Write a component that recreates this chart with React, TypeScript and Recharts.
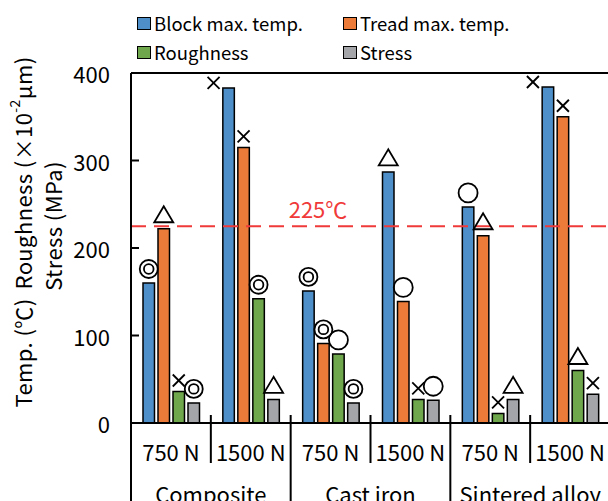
import React from 'react';
import { BarChart, Bar, XAxis, YAxis, ReferenceLine, Legend, LabelList } from 'recharts';

// values
const loads = ['750 N', '1500 N', '750 N', '1500 N', '750 N', '1500 N'];
const groups = ['Composite', 'Cast iron', 'Sintered alloy'];
const blockTemp = [160, 383, 151, 287, 247, 384];
const treadTemp = [222, 315, 91, 139, 214, 350];
const roughness = [36, 142, 79, 27, 11, 60];
const stress = [23, 27, 23, 26, 27, 33];

// evaluation marks drawn above each bar
const blockMark = ['◎', '×', '◎', '△', '○', '×'];
const treadMark = ['△', '×', '◎', '○', '△', '×'];
const roughMark = ['×', '◎', '○', '×', '×', '△'];
const stressMark = ['◎', '△', '◎', '○', '△', '×'];

const seriesNames = ['Block max. temp.', 'Tread max. temp.', 'Roughness', 'Stress'];
const seriesColors = ['#4E8FC9', '#EC7B3A', '#6FA84C', '#A3A5A8'];
const yTicks = [0, 100, 200, 300, 400];
const limitTemp = 225;

const FONT = '"Noto Sans CJK JP", "Noto Sans", sans-serif';
const W = 620;
const H = 501;
const MARGIN = { top: 13, right: 10, left: 0, bottom: 0 };
const Y_W = 131;
const X_H = 78;
const PLOT_TOP = 73;
const CAT_W = (W - MARGIN.right - Y_W) / loads.length;

const data = loads.map((load, i) => ({
  load,
  block: blockTemp[i],
  tread: treadTemp[i],
  rough: roughness[i],
  stress: stress[i],
  blockMark: blockMark[i],
  treadMark: treadMark[i],
  roughMark: roughMark[i],
  stressMark: stressMark[i],
}));

function Mark({ kind, cx, cy }: { kind: string; cx: number; cy: number }) {
  const s = { fill: 'none', stroke: '#000', strokeWidth: 1.8 };
  if (kind === '◎') {
    return (
      <g>
        <circle cx={cx} cy={cy} r={9} {...s} />
        <circle cx={cx} cy={cy} r={4.8} {...s} />
      </g>
    );
  }
  if (kind === '○') return <circle cx={cx} cy={cy} r={9.5} {...s} />;
  if (kind === '△') {
    return (
      <polygon
        points={`${cx},${cy - 8.5} ${cx - 9.5},${cy + 7.5} ${cx + 9.5},${cy + 7.5}`}
        {...s}
        strokeLinejoin="miter"
      />
    );
  }
  return (
    <g>
      <line x1={cx - 6} y1={cy - 6} x2={cx + 6} y2={cy + 6} {...s} />
      <line x1={cx - 6} y1={cy + 6} x2={cx + 6} y2={cy - 6} {...s} />
    </g>
  );
}

const MarkLabel = (props: any) => {
  const { x, y, width, value } = props;
  let cx = x + width / 2;
  let cy = y - (value === '×' ? 11 : 14);
  // no room under the frame: put the mark beside the bar
  if (cy < PLOT_TOP + 12) {
    cx -= 15;
    cy = y - 5;
  }
  return <Mark kind={value} cx={cx} cy={cy} />;
};

const YTick = (props: any) => {
  const { x, y, payload } = props;
  return (
    <g>
      <line x1={x} x2={x + 8} y1={y} y2={y} stroke="#000" strokeWidth={2} />
      <text x={x - 21} y={y} textAnchor="end" dominantBaseline="central" fontSize={22} fontFamily={FONT} fill="#000">
        {payload.value}
      </text>
    </g>
  );
};

const XTick = (props: any) => {
  const { x, y, index } = props;
  const half = CAT_W / 2;
  const groupEnd = index % 2 === 1;
  return (
    <g>
      <text x={x} y={y + 28} textAnchor="middle" dominantBaseline="central" fontSize={22} fontFamily={FONT} fill="#000">
        {loads[index]}
      </text>
      {index < loads.length - 1 && (
        <line x1={x + half} x2={x + half} y1={y - 8} y2={groupEnd ? y + 80 : y + 40} stroke="#000" strokeWidth={2} />
      )}
      {index === 0 && <line x1={x - half} x2={x - half} y1={y} y2={y + 80} stroke="#000" strokeWidth={2} />}
      {index % 2 === 0 && (
        <text x={x + half} y={y + 70} textAnchor="middle" dominantBaseline="central" fontSize={22} fontFamily={FONT} fill="#000">
          {groups[index / 2]}
        </text>
      )}
    </g>
  );
};

const YLabel = () => (
  <g fontFamily={FONT} fontSize={22} fill="#000">
    <text x={22} y={232} transform="rotate(-90 22 232)" textAnchor="middle" dominantBaseline="central" letterSpacing={0.4}>
      <tspan>Temp. (℃)</tspan>
      <tspan dx={9}>Roughness (×10</tspan>
      <tspan dy={-8} fontSize={14}>-2</tspan>
      <tspan dy={8}>μm)</tspan>
    </text>
    <text x={52} y={226} transform="rotate(-90 52 226)" textAnchor="middle" dominantBaseline="central" letterSpacing={0.4}>
      Stress (MPa)
    </text>
  </g>
);

const LimitLabel = (props: any) => {
  const { viewBox } = props;
  return (
    <text x={viewBox.x + 187} y={viewBox.y - 18} textAnchor="middle" dominantBaseline="central" fontSize={22} fontFamily={FONT} fill="#F03A3A">
      {limitTemp}℃
    </text>
  );
};

const LegendBox = (props: any) => {
  const items = [...(props.payload || [])].sort(
    (a: any, b: any) => seriesNames.indexOf(a.value) - seriesNames.indexOf(b.value)
  );
  const cols = [137, 343];
  const rows = [23, 52];
  return (
    <div style={{ position: 'relative', width: 608, height: 60, fontFamily: FONT, fontSize: 18.5 }}>
      {items.map((it: any, i: number) => (
        <div
          key={i}
          style={{ position: 'absolute', left: cols[i % 2], top: rows[Math.floor(i / 2)] - 12, height: 24, display: 'flex', alignItems: 'center', whiteSpace: 'nowrap' }}
        >
          <span style={{ width: 14, height: 13, boxSizing: 'border-box', border: '1.5px solid #000', background: it.color, marginRight: 3 }} />
          <span>{it.value}</span>
        </div>
      ))}
    </div>
  );
};

export default function App() {
  const keys = ['block', 'tread', 'rough', 'stress'];
  return (
    <div style={{ position: 'absolute', left: 0, top: 0, width: 608, height: 501, overflow: 'hidden', background: '#fff' }}>
      <BarChart width={W} height={H} data={data} margin={MARGIN} barSize={11.5} barGap={3.5}>
        <Legend verticalAlign="top" align="left" content={<LegendBox />} wrapperStyle={{ top: 0, left: 0, width: 608, height: 60 }} />
        <XAxis
          dataKey="load"
          height={X_H}
          interval={0}
          tickLine={false}
          tickSize={0}
          tickMargin={0}
          tick={<XTick />}
          axisLine={{ stroke: '#000', strokeWidth: 2 }}
        />
        <YAxis
          width={Y_W}
          domain={[0, 400]}
          ticks={yTicks}
          interval={0}
          tickLine={false}
          tickSize={0}
          tickMargin={0}
          tick={<YTick />}
          axisLine={{ stroke: '#000', strokeWidth: 2 }}
          label={<YLabel />}
        />
        <ReferenceLine y={400} stroke="#000" strokeWidth={2} />
        {keys.map((k, i) => (
          <Bar key={k} dataKey={k} name={seriesNames[i]} fill={seriesColors[i]} stroke="#000" strokeWidth={1.5} isAnimationActive={false}>
            <LabelList dataKey={`${k}Mark`} content={<MarkLabel />} />
          </Bar>
        ))}
        <ReferenceLine y={limitTemp} stroke="#F03A3A" strokeWidth={2} strokeDasharray="15 8" label={<LimitLabel />} />
      </BarChart>
    </div>
  );
}
